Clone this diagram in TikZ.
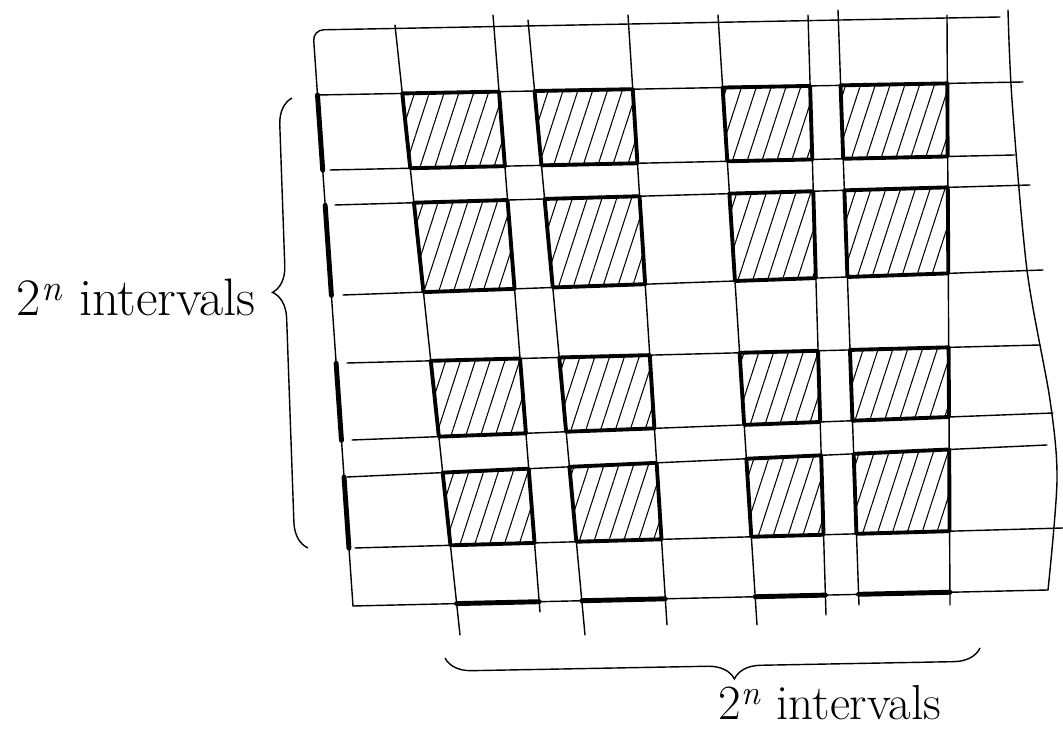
\documentclass[tikz,border=0pt]{standalone}
\usepackage{fontspec}
\usetikzlibrary{decorations.pathreplacing,patterns.meta}
\tikzset{font={\fontsize{30pt}{36pt}\selectfont}}

\begin{document}
\begin{tikzpicture}[x=0.02cm,y=-0.02cm,
grid line/.style={line width=0.8pt,line cap=round},
edge mark/.style={line width=2.8pt,line cap=round},
cell/.style={line width=2.2pt,line join=round,pattern={Lines[angle=72,distance=8pt,line width=0.6pt]}},
curly/.style={decorate,decoration={brace,amplitude=15pt},line width=0.8pt}
]
\useasboundingbox (0,0) rectangle (1063,732);
\foreach \n/\xt/\yt/\xb/\yb in {0/313/30/353/606,1/395/25/460/635,2/493/15/540/612,
  3/528/20/585/635,4/628/15/667/625,5/718/15/757/625,6/808/15/826/615,7/838/10/859/605,8/947/15/950/605}
  {\coordinate (v\n t) at (\xt,\yt); \coordinate (v\n b) at (\xb,\yb);}
\foreach \n/\xl/\yl/\xr/\yr in {0/313/30/1000/17,1/318/95/1023/82,2/330/170/1015/155,3/335/205/1030/185,
  4/343/295/1043/270,5/347/363/1040/345,6/352/440/1053/413,7/347/477/1047/445,8/355/548/1063/528,9/353/606/1048/590}
  {\coordinate (h\n l) at (\xl,\yl); \coordinate (h\n r) at (\xr,\yr);}
\foreach \i in {0,...,8} \foreach \j in {0,...,9}
  \coordinate (p\i-\j) at (intersection of v\i t--v\i b and h\j l--h\j r);

\foreach \n in {1,...,8} \draw[grid line] (v\n t) -- (v\n b);
\foreach \n in {1,...,9} \draw[grid line] (h\n l) -- (h\n r);
\draw[grid line,rounded corners=6] (v0b) -- (v0t) -- (h0r);
\draw[grid line] plot[smooth] coordinates {(1008,10) (1012,100) (1027,270) (1050,400) (1057,480) (1048,590)};

\foreach \a/\b in {1/2,3/4,5/6,7/8} \foreach \c/\d in {1/2,3/4,5/6,7/8}
  \draw[cell] (p\a-\c) -- (p\b-\c) -- (p\b-\d) -- (p\a-\d) -- cycle;
\foreach \a/\b in {1/2,3/4,5/6,7/8} {
  \draw[edge mark] (p0-\a) -- (p0-\b);
  \draw[edge mark] (p\a-9) -- (p\b-9);}

\coordinate (lb) at (308,548);
\coordinate (lt) at (292,98);
\coordinate (br) at (980,648);
\coordinate (bl) at (445,658);
\draw[curly,decoration={aspect=0.57}] (lb) -- (lt);
\draw[curly,decoration={aspect=0.46}] (br) -- (bl);
\node[anchor=base east,inner sep=0pt] (ll) at (256,316) {2\textsuperscript{\textit{n}} intervals};
\node[anchor=base west,inner sep=0pt,font={\fontsize{28pt}{32pt}\selectfont}] (bb) at (718,720) {2\textsuperscript{\textit{n}} intervals};
\end{tikzpicture}
\end{document}
